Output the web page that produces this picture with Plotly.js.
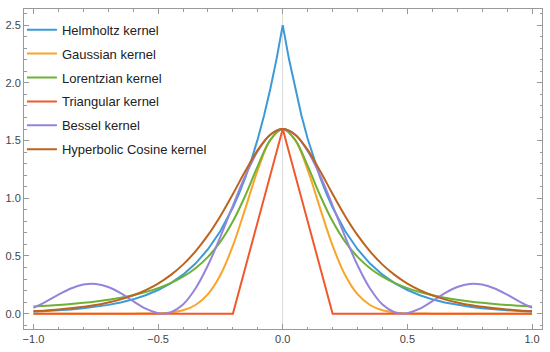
<!DOCTYPE html>
<html>
<head>
<meta charset="utf-8">
<script src="https://cdn.plot.ly/plotly-3.0.1.min.js"></script>
<style>html,body{margin:0;padding:0;background:#fff;}#chart{width:550px;height:352px;}</style>
</head>
<body>
<div id="chart"></div>
<script>
// Shared grid for smooth kernels
const xGrid = [-1,-0.95,-0.9,-0.85,-0.8,-0.75,-0.7,-0.65,-0.6,-0.55,-0.5,-0.45,-0.4,-0.35,-0.3,-0.25,-0.2,-0.15,-0.1,-0.05,0,
               0.05,0.1,0.15,0.2,0.25,0.3,0.35,0.4,0.45,0.5,0.55,0.6,0.65,0.7,0.75,0.8,0.85,0.9,0.95,1];

const helmholtzX = [-1,-0.95,-0.9,-0.85,-0.8,-0.75,-0.7,-0.65,-0.6,-0.55,-0.5,-0.45,-0.4,-0.35,-0.3,-0.25,-0.2,-0.175,-0.15,-0.125,-0.1,-0.075,-0.05,-0.025,0,
                    0.025,0.05,0.075,0.1,0.125,0.15,0.175,0.2,0.25,0.3,0.35,0.4,0.45,0.5,0.55,0.6,0.65,0.7,0.75,0.8,0.85,0.9,0.95,1];
const helmholtzY = [0.017,0.022,0.028,0.036,0.046,0.059,0.076,0.097,0.124,0.160,0.205,0.263,0.338,0.434,0.558,0.716,0.920,1.042,1.181,1.338,1.516,1.718,1.947,2.206,2.5,
                    2.206,1.947,1.718,1.516,1.338,1.181,1.042,0.920,0.716,0.558,0.434,0.338,0.263,0.205,0.160,0.124,0.097,0.076,0.059,0.046,0.036,0.028,0.022,0.017];

const gaussianY = [0,0,0,0,0,0,0,0,0,0.001,0.003,0.010,0.029,0.075,0.169,0.335,0.589,0.912,1.246,1.503,1.6,
                   1.503,1.246,0.912,0.589,0.335,0.169,0.075,0.029,0.010,0.003,0.001,0,0,0,0,0,0,0,0,0];

const lorentzianY = [0.062,0.068,0.075,0.084,0.094,0.106,0.121,0.138,0.160,0.187,0.221,0.264,0.320,0.394,0.492,0.624,0.800,1.024,1.280,1.506,1.6,
                     1.506,1.280,1.024,0.800,0.624,0.492,0.394,0.320,0.264,0.221,0.187,0.160,0.138,0.121,0.106,0.094,0.084,0.075,0.068,0.062];

const triangularX = [-1,-0.2,0,0.2,1];
const triangularY = [0,0,1.6,0,0];

const besselX = [-1,-0.95,-0.9,-0.85,-0.8,-0.75,-0.7,-0.65,-0.6,-0.55,-0.5,-0.481,-0.45,-0.4,-0.35,-0.3,-0.25,-0.2,-0.15,-0.1,-0.05,0,
                 0.05,0.1,0.15,0.2,0.25,0.3,0.35,0.4,0.45,0.481,0.5,0.55,0.6,0.65,0.7,0.75,0.8,0.85,0.9,0.95,1];
const besselY = [0.050,0.104,0.164,0.218,0.252,0.258,0.231,0.177,0.108,0.043,0.004,0,0.011,0.080,0.218,0.419,0.668,0.937,1.195,1.409,1.551,1.6,
                 1.551,1.409,1.195,0.937,0.668,0.419,0.218,0.080,0.011,0,0.004,0.043,0.108,0.177,0.231,0.258,0.252,0.218,0.164,0.104,0.050];

const coshY = [0.022,0.028,0.036,0.046,0.059,0.075,0.097,0.124,0.159,0.204,0.261,0.334,0.425,0.540,0.680,0.847,1.037,1.236,1.419,1.551,1.6,
               1.551,1.419,1.236,1.037,0.847,0.680,0.540,0.425,0.334,0.261,0.204,0.159,0.124,0.097,0.075,0.059,0.046,0.036,0.028,0.022];

const names = ["Helmholtz kernel","Gaussian kernel","Lorentzian kernel","Triangular kernel","Bessel kernel","Hyperbolic Cosine kernel"];
const colors = ["#3d9ad6","#f8a52a","#6db135","#f2582c","#9584dc","#bd641c"];

const series = [
  {x: helmholtzX, y: helmholtzY, shape: "linear"},
  {x: xGrid, y: gaussianY, shape: "spline"},
  {x: xGrid, y: lorentzianY, shape: "spline"},
  {x: triangularX, y: triangularY, shape: "linear"},
  {x: besselX, y: besselY, shape: "spline"},
  {x: xGrid, y: coshY, shape: "spline"}
];

const traces = series.map((s, i) => ({
  type: "scatter", mode: "lines",
  x: s.x, y: s.y, name: names[i],
  legendgroup: "g" + i,
  line: {color: colors[i], width: 2, shape: s.shape, smoothing: 1},
  hoverinfo: "skip"
}));

const axisCommon = {
  showgrid: false,
  showline: true, linecolor: "#999", linewidth: 1,
  mirror: "ticks",
  ticks: "inside", ticklen: 5, tickcolor: "#999", tickwidth: 1,
  tickformat: ".1f",
  tickfont: {family: "Liberation Sans, Arial, sans-serif", size: 11, color: "#444"},
  minor: {ticks: "inside", ticklen: 2.5, tickcolor: "#999", dtick: 0.1, showgrid: false}
};

const layout = {
  width: 550, height: 352,
  margin: {l: 24, r: 8, t: 9, b: 23, pad: 0},
  paper_bgcolor: "#fff", plot_bgcolor: "#fff",
  showlegend: true,
  legend: {
    x: -0.004, y: 0.982, xanchor: "left", yanchor: "top",
    bgcolor: "rgba(0,0,0,0)", borderwidth: 0,
    font: {family: "Liberation Sans, Arial, sans-serif", size: 13, color: "#222"},
    tracegroupgap: 4, traceorder: "grouped"
  },
  xaxis: Object.assign({}, axisCommon, {
    range: [-1.038, 1.04], tick0: 0, dtick: 0.5,
    zeroline: true, zerolinecolor: "#dcdcdc", zerolinewidth: 1
  }),
  yaxis: Object.assign({}, axisCommon, {
    range: [-0.133, 2.64], tick0: 0, dtick: 0.5,
    zeroline: false
  })
};

Plotly.newPlot("chart", traces, layout, {displayModeBar: false, staticPlot: true});
</script>
</body>
</html>
